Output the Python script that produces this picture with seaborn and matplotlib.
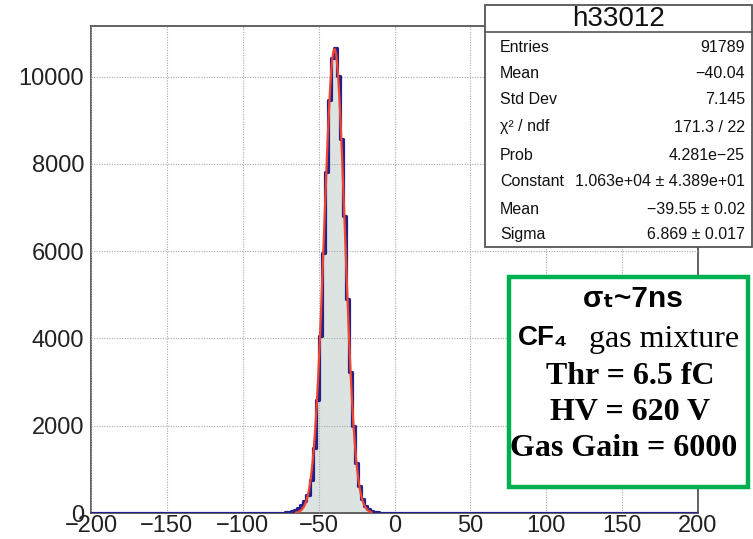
import numpy as np
import pandas as pd
import matplotlib
matplotlib.use("Agg")
import matplotlib.pyplot as plt
import seaborn as sns
from matplotlib.patches import Rectangle
from matplotlib.lines import Line2D
from matplotlib.ticker import MultipleLocator

# ---------------- data ----------------
x_range = (-200, 200)
bin_width = 2
peak_centers = [-75, -73, -71, -69, -67, -65, -63, -61, -59, -57, -55, -53, -51, -49,
                -47, -45, -43, -41, -39, -37, -35, -33, -31, -29, -27, -25, -23, -21,
                -19, -17, -15, -13, -11, -9, -7, -5]
peak_counts = [5, 8, 15, 25, 40, 70, 110, 180, 270, 420, 750, 1480, 2600, 4060,
               5950, 7810, 9460, 10430, 10650, 10010, 8560, 6800, 4900, 3230,
               2000, 1150, 610, 330, 170, 90, 50, 30, 18, 10, 6, 3]
fit_constant = 1.063e4
fit_mean = -39.55
fit_sigma = 6.869
fit_range = (-65, -15)
y_max = 11160

hist_name = "h33012"
stats_labels = ["Entries", "Mean", "Std Dev", "χ² / ndf", "Prob", "Constant", "Mean", "Sigma"]
stats_values = ["91789", "−40.04", "7.145", "171.3 / 22", "4.281e−25",
                "1.063e+04 ± 4.389e+01", "−39.55 ± 0.02", "6.869 ± 0.017"]

# ---------------- build tables ----------------
edges = np.arange(x_range[0], x_range[1] + bin_width, bin_width)
centers = edges[:-1] + bin_width / 2
counts = np.zeros_like(centers, dtype=float)
for c, v in zip(peak_centers, peak_counts):
    counts[np.argmin(np.abs(centers - c))] = v
hist_df = pd.DataFrame({"x": centers, "n": counts})

fx = np.linspace(fit_range[0], fit_range[1], 400)
fy = fit_constant * np.exp(-0.5 * ((fx - fit_mean) / fit_sigma) ** 2)
fit_df = pd.DataFrame({"x": fx, "y": fy})

# ---------------- style ----------------
sns.set_style("white")
plt.rcParams['font.family'] = ['Liberation Sans', 'DejaVu Sans']

W, H = 753, 539
fig = plt.figure(figsize=(W / 100, H / 100), dpi=100)
L, R, T, B = 91, 698, 26, 513
ax = fig.add_axes([L / W, 1 - B / H, (R - L) / W, (B - T) / H])

fill_c = "#dde3e1"
line_c = "#23208a"
fit_c = "#f2452f"

sns.histplot(data=hist_df, x="x", weights="n", binwidth=bin_width, binrange=x_range,
             element="step", fill=True, color=fill_c, alpha=1, linewidth=0, ax=ax, zorder=1)
sns.histplot(data=hist_df, x="x", weights="n", binwidth=bin_width, binrange=x_range,
             element="step", fill=False, color=line_c, linewidth=2.3, ax=ax, zorder=3)
sns.lineplot(data=fit_df, x="x", y="y", color=fit_c, linewidth=1.6, ax=ax, zorder=4)

ax.set_xlim(*x_range)
ax.set_ylim(0, y_max)
ax.set_xlabel("")
ax.set_ylabel("")

ax.xaxis.set_major_locator(MultipleLocator(50))
ax.xaxis.set_minor_locator(MultipleLocator(10))
ax.yaxis.set_major_locator(MultipleLocator(2000))
ax.yaxis.set_minor_locator(MultipleLocator(500))

ax.grid(True, which="major", color="#aaaaaa", linestyle=(0, (1.0, 1.3)), linewidth=0.8)
ax.set_axisbelow(False)
for gl in ax.get_xgridlines() + ax.get_ygridlines():
    gl.set_zorder(2)

ax.tick_params(axis="both", which="both", direction="in", colors="#555555",
               labelcolor="#222222", labelsize=17, width=1.2)
ax.tick_params(axis="y", which="major", length=13, pad=5)
ax.tick_params(axis="y", which="minor", length=7)
ax.tick_params(axis="x", which="major", length=10, pad=1.5)
ax.tick_params(axis="x", which="minor", length=4.5)
for s in ax.spines.values():
    s.set_color("#555555")
    s.set_linewidth(1.3)
    s.set_visible(True)

# ---------------- stats box ----------------
def px2fig(x, y):
    return x / W, 1 - y / H

bx0, by0, bx1, by1 = 485, 5, 752, 247
fig.patches.append(Rectangle(px2fig(bx0, by1), (bx1 - bx0) / W, (by1 - by0) / H,
                             transform=fig.transFigure, facecolor="white",
                             edgecolor="#555555", linewidth=1.3, zorder=10))
fig.lines.append(Line2D([bx0 / W, bx1 / W], [1 - 32 / H, 1 - 32 / H],
                        transform=fig.transFigure, color="#555555", linewidth=1.2, zorder=11))
fig.text(*px2fig((bx0 + bx1) / 2, 19), hist_name, ha="center", va="center",
         fontsize=20, color="#111111", zorder=12)
row_y = [47, 73, 100, 127, 155, 182, 209, 235]
for lab, val, yy in zip(stats_labels, stats_values, row_y):
    fig.text(*px2fig(500, yy), lab, ha="left", va="center", fontsize=11.5, color="#111111", zorder=12)
    fig.text(*px2fig(745, yy), val, ha="right", va="center", fontsize=11.5, color="#111111", zorder=12)

# ---------------- green annotation box ----------------
gx0, gy0, gx1, gy1 = 509, 277, 748, 487
fig.patches.append(Rectangle(px2fig(gx0, gy1), (gx1 - gx0) / W, (gy1 - gy0) / H,
                             transform=fig.transFigure, facecolor="white",
                             edgecolor="#00b050", linewidth=3.2, zorder=20))
serif = ['Liberation Serif', 'DejaVu Serif']
sans = ['Liberation Sans', 'DejaVu Sans']
fig.text(*px2fig(633, 299), "σₜ~7ns", ha="center", va="center", fontsize=21.5,
         fontweight="bold", family=sans, color="black", zorder=21)
fig.text(*px2fig(518, 338), "CF₄", ha="left", va="center", fontsize=20,
         fontweight="bold", family=sans, color="black", zorder=21)
fig.text(*px2fig(739, 340), "gas mixture", ha="right", va="center", fontsize=23,
         family=serif, color="black", zorder=21)
fig.text(*px2fig(630, 377), "Thr = 6.5 fC", ha="center", va="center", fontsize=23,
         fontweight="bold", family=serif, color="black", zorder=21)
fig.text(*px2fig(630, 412), "HV = 620 V", ha="center", va="center", fontsize=23,
         fontweight="bold", family=serif, color="black", zorder=21)
fig.text(*px2fig(624, 448), "Gas Gain = 6000", ha="center", va="center", fontsize=23,
         fontweight="bold", family=serif, color="black", zorder=21)

fig.savefig("out.png", dpi=100)
